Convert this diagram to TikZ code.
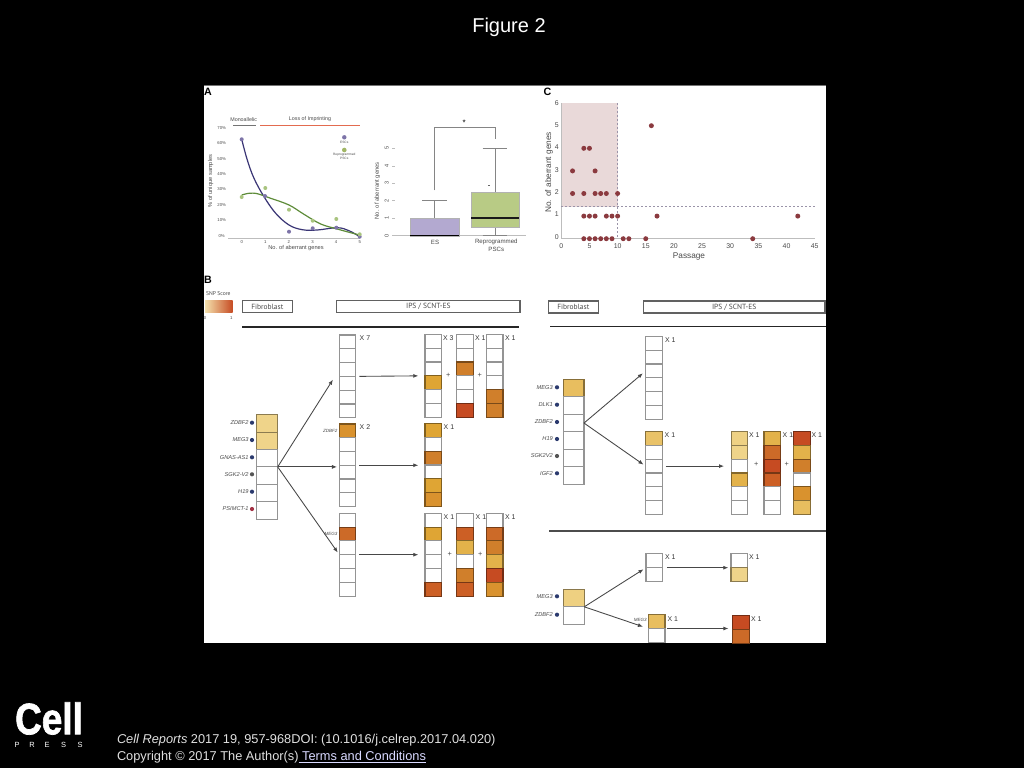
\documentclass[tikz,border=0pt]{standalone}
\usepackage{fontspec}
\usepackage{graphicx}
\setmainfont{Liberation Sans}
\newfontfamily\hum{PT Sans}
\newfontfamily\logof[FakeBold=1.6]{Liberation Sans Bold}
\usetikzlibrary{arrows.meta,calc}
\definecolor{inkg}{HTML}{4A4A4A}
\definecolor{linkg}{HTML}{8A8A8A}
\definecolor{navyd}{HTML}{2B3A6E}
\definecolor{greyd}{HTML}{555555}
\definecolor{redd}{HTML}{A33245}
\definecolor{ya}{HTML}{EFD48A}
\definecolor{yb}{HTML}{E8BE5F}
\definecolor{yc}{HTML}{E3B24A}
\definecolor{yd}{HTML}{DFA534}
\definecolor{oa}{HTML}{D9922E}
\definecolor{ob}{HTML}{D07F2B}
\definecolor{oc}{HTML}{CC6A28}
\definecolor{rb}{HTML}{CC5F25}
\definecolor{rc}{HTML}{C64B22}
\definecolor{pline}{HTML}{3A3575}
\definecolor{gline}{HTML}{5E8C3A}
\definecolor{pmark}{HTML}{7D74A8}
\definecolor{gmark}{HTML}{A9C47F}
\definecolor{pbox}{HTML}{B3A9D0}
\definecolor{gbox}{HTML}{B8CB85}
\definecolor{dotc}{HTML}{8B3A3F}
\definecolor{shadec}{HTML}{E9D9D9}
\definecolor{axc}{HTML}{BDBDBD}
\definecolor{dashc}{HTML}{9A93A8}
\newcommand\fs[1]{\fontsize{#1pt}{#1pt}\selectfont}
\tikzset{
  x=0.75pt,y=-0.75pt,
  cellbox/.style={rectangle,inner sep=0pt,outer sep=0pt,line width=0.85pt},
  txt/.style={inner sep=0pt,outer sep=0pt,text=inkg},
  gene/.style={txt,anchor=east,font=\fs{4.25}\itshape},
  small/.style={txt,font=\fs{3.4}\itshape},
  times/.style={txt,anchor=west,font=\fs{5.2},text=black!80},
  plussign/.style={txt,font=\fs{5.5}},
  tickA/.style={txt,font=\fs{3.2}},
  tickB/.style={txt,font=\fs{4.2}},
  tickC/.style={txt,font=\fs{5.2}},
  labelA/.style={txt,font=\fs{4.25}},
  labelC/.style={txt,font=\fs{6.2}},
  panel/.style={inner sep=0pt,outer sep=0pt,font=\fs{8}\bfseries,text=black},
  headbox/.style={rectangle,draw=black!62,line width=0.95pt,inner sep=0pt,outer sep=0pt,font=\hum\fs{5.6},text=inkg},
  arr/.style={-{Latex[length=3.8pt,width=3pt]},draw=black!72,line width=0.65pt},
  rulebar/.style={line width=1.2pt,draw=black!85},
  whisk/.style={line width=0.85pt,draw=black!48},
  foot/.style={inner sep=0pt,outer sep=0pt,anchor=base west,text=white!88!black,font=\fs{9.6}},
}
\newcommand\colbar[6]{%
  \foreach \cc [count=\i] in {#6} {
    \node[cellbox,fill=\cc,draw=\cc!58!black,minimum width=#4*0.75pt,minimum height=#5*0.75pt]
      (#1-\i) at ({#2+#4/2},{#3+(\i-0.5)*#5}) {};
  }%
}
\begin{document}
\begin{tikzpicture}
\useasboundingbox (0,0) rectangle (1024,768);
\fill[black] (0,0) rectangle (1024,768);
\fill[white] (204,85.5) rectangle (826,643.3);
\draw[black!55,line width=0.6pt] (204,85.5) -- (826,85.5);
\node[inner sep=0pt,text=white,font=\fs{15}] (title) at (509,27) {Figure 2};

% ---------- panel letters
\node[panel] (pa) at (208,91.5) {A};
\node[panel] (pc) at (547.5,91.5) {C};
\node[panel] (pb) at (208,279.5) {B};

% ---------- panel A
\node[labelA,font=\fs{4}] (mono) at (243.7,119.3) {Monoallelic};
\node[labelA,font=\fs{4}] (loss) at (310,119.3) {Loss of Imprinting};
\draw[line width=0.4pt,black!55] (233.3,125.3) -- (256.3,125.3);
\draw[line width=0.4pt,red!45!brown!80] (260,125.3) -- (359.7,125.3);
\foreach \v/\t in {0/0,1/10,2/20,3/30,4/40,5/50,6/60,7/70}
  \node[tickA] (ay\v) at (221.7,{235.7-15.43*\v}) {\t\%};
\foreach \v in {0,...,5}
  \node[tickA] (ax\v) at ({241.7+23.6*\v},241.7) {\v};
\draw[axc,line width=0.4pt] (228,238) -- (360,238);
\node[labelA,rotate=90] (aylab) at (210.7,181) {\% of unique samples};
\node[labelA] (axlab) at (296,247.7) {No. of aberrant genes};
\draw[pline,line width=0.9pt] plot[smooth,tension=0.6] coordinates {(241.7,139.3)(247.3,160)(254,178.3)(264,196.7)(275.7,213.3)(289,225)(302.3,229.7)(317.3,230)(337.3,227.7)(349,230.7)(359.7,236.7)};
\draw[gline,line width=0.9pt] plot[smooth,tension=0.6] coordinates {(241.7,195)(249,193.3)(257.3,193.7)(270.7,198.3)(289,205)(304,214.3)(320.7,224)(337.3,229)(350.7,232.7)(359.7,235)};
\foreach \p in {(241.7,139.3),(265,196),(289,231.7),(312.7,228.3),(336.3,227.7),(359.7,236.7)}
  \fill[pmark] \p circle (2);
\foreach \p in {(241.7,197),(265.3,188),(289,209.7),(312.7,220.7),(336.3,219),(359.7,234.3)}
  \fill[gmark] \p circle (2);
\fill[pmark] (344.3,137.3) circle (2.2);
\node[tickA,font=\fs{2.4}] (lg1) at (344.3,142) {ESCs};
\fill[gmark!80!olive] (344.3,150) circle (2.3);
\node[tickA,font=\fs{2.4}] (lg2) at (344.3,155) {Reprogrammed};
\node[tickA,font=\fs{2.4}] (lg3) at (344.3,158.7) {PSCs};

% ---------- box plot
\foreach \v in {0,...,5} {
  \node[tickB,rotate=90] (by\v) at (386.7,{235.7-17.47*\v}) {\v};
  \draw[axc,line width=0.4pt] (392,{235.7-17.47*\v}) -- (395,{235.7-17.47*\v});
}
\draw[axc,line width=0.5pt] (395,235.7) -- (526,235.7);
\node[labelA,font=\fs{4.4},rotate=90] (bylab) at (377.3,190.7) {No. of aberrant genes};
\draw[whisk] (434.3,218) -- (434.3,200.7);
\draw[whisk] (422,200.7) -- (447,200.7);
\path[fill=pbox,draw=black!30,line width=0.3pt] (410.3,218) rectangle (459,235.7);
\draw[black,line width=1pt] (410.3,235.5) -- (459,235.5);
\draw[whisk] (495.3,192) -- (495.3,148.3);
\draw[whisk] (482.7,148.3) -- (507.3,148.3);
\draw[whisk] (495.3,227) -- (495.3,235.7);
\draw[whisk] (482.7,235.7) -- (507.3,235.7);
\path[fill=gbox,draw=black!30,line width=0.3pt] (471,192) rectangle (519.3,227);
\draw[black!90,line width=1pt] (471,218) -- (519.3,218);
\fill[black!60] (488,185) rectangle (490,185.8);
\draw[whisk,line width=1pt] (434.3,190.3) -- (434.3,127.3) -- (495.3,127.3) -- (495.3,139);
\node[txt,font=\fs{6},text=black] (star) at (464.3,122.6) {*};
\node[labelA,font=\fs{4.6}] (esl) at (435,242.3) {ES};
\node[labelA,font=\fs{4.6}] (rp1) at (496.3,242.2) {Reprogrammed};
\node[labelA,font=\fs{4.6}] (rp2) at (496.3,249.7) {PSCs};

% ---------- panel C
\fill[shadec] (561.3,103) rectangle (617.7,206.7);
\draw[axc,line width=0.5pt] (561.3,103) -- (561.3,238.7) -- (814.7,238.7);
\draw[dashc,line width=0.7pt,dashed,dash pattern=on 1.6pt off 1.4pt] (617.7,103) -- (617.7,238.7);
\draw[dashc,line width=0.7pt,dashed,dash pattern=on 1.6pt off 1.4pt] (561.3,206.7) -- (814.7,206.7);
\foreach \v in {0,...,6}
  \node[tickC] (cy\v) at (556.8,{236.7-22.3*\v}) {\v};
\foreach \v in {0,5,...,45}
  \node[tickC] (cx\v) at ({561.3+5.63*\v},246.3) {\v};
\node[labelC,rotate=90] (cylab) at (549,172.3) {No. of aberrant genes};
\node[labelC] (cxlab) at (689,256.7) {Passage};
\foreach \a/\b in {2/2,2/3,4/1,4/2,4/4,5/4,5/1,6/1,6/2,6/3,7/2,8/2,8/1,9/1,10/1,10/2,16/5,17/1,42/1,4/0,5/0,6/0,7/0,8/0,9/0,11/0,12/0,15/0,34/0}
  \fill[dotc] ({561.3+5.63*\a},{238.7-22.6*\b}) circle (2.5);

% ---------- panel B legend and headers
\node[txt,font=\hum\fs{4.2}] (snp) at (218.3,293.3) {SNP Score};
\shade[left color=ya!70!white,middle color=yd,right color=rc] (205,300) rectangle (232.7,312.7);
\node[tickA] (s0) at (205,318.3) {0};
\node[tickA] (s1) at (231.3,318.3) {1};
\node[headbox,minimum width=50*0.75pt,minimum height=12*0.75pt] (fb1) at (267.3,306.7) {Fibroblast};
\node[headbox,minimum width=183.3*0.75pt,minimum height=12*0.75pt] (ips1) at (428.3,306.7) {IPS / SCNT-ES};
\node[headbox,minimum width=50*0.75pt,minimum height=12*0.75pt] (fb2) at (573.3,307) {Fibroblast};
\node[headbox,minimum width=181.7*0.75pt,minimum height=12*0.75pt] (ips2) at (734.2,307) {IPS / SCNT-ES};
\coordinate (r1a) at (242.3,326.7); \coordinate (r1b) at (519,326.7);
\coordinate (r2a) at (550,326.3); \coordinate (r2b) at (826,326.3);
\coordinate (r3a) at (549.3,530.7); \coordinate (r3b) at (826,530.7);
\draw[rulebar] (r1a) -- (r1b);
\draw[rulebar] (r2a) -- (r2b);
\draw[rulebar,draw=black!70,line width=1.2pt] (r3a) -- (r3b);

% ---------- left group
\colbar{zl}{256.7}{414.7}{21}{17.4}{ya,ya,white,white,white,white}
\foreach \t/\y/\c [count=\i] in {ZDBF2/422.7/navyd,MEG3/440/navyd,GNAS-AS1/457.3/navyd,SGK2-V2/474.3/greyd,H19/491.7/navyd,PSIMCT-1/509/redd} {
  \node[gene] (gl\i) at (248.6,\y) {\t};
  \fill[\c] (252,\y) circle (2.1);
}
\colbar{ca}{339.3}{335}{16.4}{13.8}{white,white,white,white,white,white}
\colbar{cb}{339.3}{424}{16.4}{13.75}{oa,white,white,white,white,white}
\colbar{cc}{339.3}{513.3}{16.4}{13.8}{white,oc,white,white,white,white}
\node[times] (xa) at (359.7,338) {X 7};
\node[times] (xb) at (359.7,427.3) {X 2};
\node[small] (zs) at (330.3,430.7) {ZDBF2};
\node[small] (ms) at (331,534.3) {MEG3};
\colbar{aa}{425}{334.3}{16.3}{13.83}{white,white,white,yd,white,white}
\colbar{ab}{456.7}{334.3}{16.6}{13.83}{white,white,ob,white,white,rc}
\colbar{ac}{486.7}{334.3}{16.3}{13.83}{white,white,white,white,ob,ob}
\node[times] (xc) at (443,337.7) {X 3};
\node[times] (xd) at (475,337.7) {X 1};
\node[times] (xe) at (505,337.7) {X 1};
\node[plussign] (pl1) at (448.3,375) {+};
\node[plussign] (pl2) at (479.7,375) {+};
\colbar{ba}{425}{423.3}{16.3}{13.88}{yd,white,ob,white,yd,oa}
\node[times] (xf) at (443.7,426.7) {X 1};
\colbar{da}{425}{513.3}{16.3}{13.8}{white,yd,white,white,white,rb}
\colbar{db}{456.7}{513.3}{16.6}{13.8}{white,rb,yc,white,ob,rb}
\colbar{dc}{486.7}{513.3}{16.3}{13.8}{white,oc,ob,yc,rc,oa}
\node[times] (xg) at (443.7,516.7) {X 1};
\node[times] (xh) at (475.7,516.7) {X 1};
\node[times] (xi) at (505,516.7) {X 1};
\node[plussign] (pl3) at (449.7,554.3) {+};
\node[plussign] (pl4) at (480.3,554.3) {+};
\draw[arr,shorten >=9pt] (zl-4.north east) -- (ca-3.west);
\draw[arr,shorten >=1.7pt] (zl-4.north east) -- (zl-4.north east -| cb-4.west);
\draw[arr,shorten >=2pt] (zl-4.north east) -- (cc-4.north west);
\draw[arr,shorten <=2.7pt,shorten >=5pt] (ca-4.north east) -- (aa-4.north west);
\draw[arr,shorten <=2.7pt,shorten >=5pt] (cb-4.north east) -- (cb-4.north east -| ba-4.west);
\draw[arr,shorten <=2.7pt,shorten >=5pt] (cc-4.north east) -- (da-4.north west);

% ---------- right group, upper
\colbar{zr}{563.3}{379.3}{20.7}{17.5}{yb,white,white,white,white,white}
\foreach \t/\y/\c [count=\i] in {MEG3/387.3/navyd,DLK1/404.7/navyd,ZDBF2/422/navyd,H19/439/navyd,SGK2V2/456/greyd,IGF2/473.3/navyd} {
  \node[gene] (gr\i) at (552.8,\y) {\t};
  \fill[\c] (557,\y) circle (2.1);
}
\colbar{ea}{645.7}{336.3}{16.6}{13.83}{white,white,white,white,white,white}
\colbar{eb}{645.7}{431.7}{16.6}{13.77}{yb!80!ya,white,white,white,white,white}
\node[times] (xj) at (665,340) {X 1};
\node[times] (xk) at (664.7,434.7) {X 1};
\colbar{fa}{731.3}{431.7}{16.4}{13.77}{ya!85!yb,ya,white,yc,white,white}
\colbar{fb}{764}{431.7}{16.3}{13.77}{yc,oc,rc,rb,white,white}
\colbar{fc}{793.7}{431.7}{16.6}{13.77}{rc,yc,ob,white,oa,yb}
\node[times] (xl) at (749,435) {X 1};
\node[times] (xm) at (782.7,435) {X 1};
\node[times] (xn) at (811.5,435) {X 1};
\node[plussign] (pl5) at (756.3,464.7) {+};
\node[plussign] (pl6) at (786.7,464.7) {+};
\draw[arr,shorten >=2.8pt] (zr-3.east) -- (ea-3.west);
\draw[arr,shorten >=2pt] (zr-3.east) -- (eb-3.west);
\draw[arr,shorten <=2.7pt,shorten >=5.4pt] (eb-3.east) -- (fa-3.west);

% ---------- right group, lower
\colbar{zs}{563.3}{589.3}{21}{17.5}{ya!80!yb,white}
\node[gene] (gs1) at (552.8,596.3) {MEG3};
\fill[navyd] (557,596.3) circle (2.1);
\node[gene] (gs2) at (552.8,614.7) {ZDBF2};
\fill[navyd] (557,614.7) circle (2.1);
\colbar{ga}{646}{553.7}{16.7}{14}{white,white}
\colbar{gb}{731}{553.7}{16.7}{14}{white,ya}
\colbar{ha}{648.3}{614.7}{16.7}{13.8}{yb,white}
\colbar{hb}{732.7}{615.3}{16.7}{14}{rc,oc}
\node[times] (xo) at (665,556.7) {X 1};
\node[times] (xp) at (749,556.7) {X 1};
\node[small] (ms2) at (640.3,620.3) {MEG3};
\node[times] (xq) at (667.5,618.7) {X 1};
\node[times] (xr) at (751,618.7) {X 1};
\draw[arr,shorten >=2.2pt] (zs-2.north east) -- (ga-2.north west);
\draw[arr,shorten >=4.2pt] (zs-2.north east) -- (ha-2.north west);
\draw[arr,shorten <=3.2pt,shorten >=2pt] (ga-2.north east) -- (gb-2.north west);
\draw[arr,shorten <=1.5pt,shorten >=3.2pt] (ha-2.north east) -- (ha-2.north east -| hb-2.west);

% ---------- footer
\node[inner sep=0pt,text=white,font=\logof\fs{33}] (logo) at (49,718.5) {\scalebox{0.84}[1]{Cell}};
\foreach \l/\x [count=\i] in {P/17,R/32,E/47,S/63.5,S/80}
  \node[inner sep=0pt,text=white,font=\fs{5.6}] (press\i) at (\x,745) {\l};
\node[foot] (cite) at (117,743) {\textit{Cell Reports} 2017 19, 957-968DOI: (10.1016/j.celrep.2017.04.020)};
\node[foot] (copy) at (117,760) {Copyright © 2017 The Author(s)\textcolor{blue!15!white}{\underline{ Terms and Conditions}}};
\end{tikzpicture}
\end{document}
